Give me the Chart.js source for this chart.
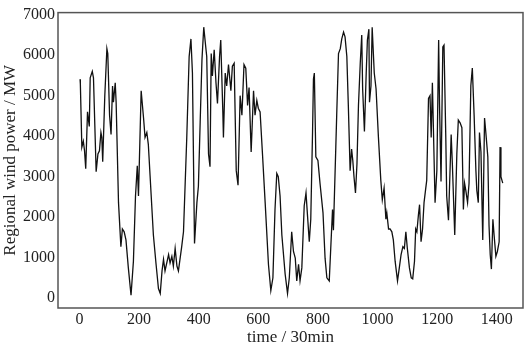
<!DOCTYPE html>
<html>
<head>
<meta charset="utf-8">
<script src="https://cdn.jsdelivr.net/npm/chart.js@4"></script>
<style>
  html, body { margin: 0; padding: 0; background: #fff; }
  #wrap { width: 526px; height: 344px; }
</style>
</head>
<body>
<div id="wrap"><canvas id="c" width="526" height="344"></canvas></div>
<script>
// time index (30-min steps) of traced points
const timeIdx = [2,3,8,13,17,21,27,33,36,43,47,56,62,67,72,75,78,85,92,95,101,106,111,114,120,123,131,139,144,150,156,164,173,181,188,194,198,207,215,220,226,231,248,257,265,271,277,282,287,299,304,310,315,321,327,332,343,349,360,368,374,379,386,394,399,405,411,417,423,427,433,438,442,446,452,458,463,470,474,481,483,489,494,500,508,513,519,526,532,539,545,552,558,564,569,576,584,589,595,600,606,614,623,634,642,649,656,662,667,673,679,690,698,704,712,718,724,729,735,740,746,754,760,765,771,776,782,785,788,793,800,807,817,824,830,838,843,849,852,860,863,869,875,880,886,891,897,902,908,913,917,921,926,931,936,942,947,950,956,962,966,971,973,978,982,989,995,1003,1011,1016,1022,1028,1031,1037,1042,1048,1053,1059,1067,1073,1079,1085,1090,1095,1100,1107,1113,1118,1124,1128,1132,1137,1141,1146,1151,1156,1161,1165,1171,1176,1180,1184,1193,1199,1205,1208,1213,1219,1223,1229,1232,1238,1247,1251,1259,1266,1271,1277,1283,1288,1292,1296,1302,1307,1313,1318,1324,1330,1333,1338,1342,1347,1353,1359,1363,1370,1374,1378,1382,1387,1391,1397,1402,1408,1411,1414,1420];
// regional wind power (MW)
const windPower = [5405,5290,3730,3875,3640,3200,4600,4240,5440,5600,5440,3125,3560,3640,4090,3970,3370,5000,6160,6040,4520,4040,5240,4840,5320,4840,2360,1275,1710,1640,1440,750,75,915,2525,3270,2525,5120,4450,3970,4090,3800,1560,840,240,120,675,960,675,1080,870,1035,795,1230,795,675,1275,1640,3970,5965,6400,5560,1350,2360,2765,4355,5890,6690,6250,5965,3560,3245,6040,5485,6135,5320,4810,5965,6375,4600,3970,5560,5240,5770,5120,5725,5800,3150,2790,5000,4520,5770,5680,4760,5200,3610,5120,4520,4880,4690,4600,3560,2360,840,190,505,2190,3080,3000,2525,1560,600,120,505,1640,1155,990,430,840,430,750,2285,2600,2045,1395,1950,4115,5410,5560,3490,3400,2840,2115,990,505,430,1230,2190,1680,3730,4520,6040,6160,6400,6570,6450,5965,4760,3150,3680,3400,3000,2600,3320,4760,5800,6495,5170,4115,5560,6375,6640,4840,5245,6690,5560,5170,3970,2910,2430,2720,1950,2115,1710,1710,1640,1440,915,430,750,1080,1275,1230,1640,1230,750,505,480,915,1710,1640,2045,2310,1395,1710,2360,2670,2910,4930,5000,3970,5320,2360,3150,6375,4760,2885,6205,6250,3970,2525,1925,4040,3320,1560,3560,4400,4330,4210,2190,2840,2670,2360,2840,5245,5680,4520,3150,2670,2360,4090,3610,1440,4450,4115,3490,1800,1080,720,1950,1560,1035,1155,1395,3730,3000,2840];
const xTicks = [0,200,400,600,800,1000,1200,1400];
const yTicks = [0,1000,2000,3000,4000,5000,6000,7000];
const xTitle = 'time / 30min';
const yTitle = 'Regional wind power / MW';

const points = timeIdx.map((t, i) => ({x: t, y: windPower[i]}));

const frame = {
  id: 'frame',
  afterDraw(chart) {
    const a = chart.chartArea, ctx = chart.ctx;
    ctx.save();
    ctx.strokeStyle = '#555';
    ctx.lineWidth = 1.5;
    ctx.strokeRect(a.left, a.top, a.right - a.left, a.bottom - a.top);
    ctx.restore();
  }
};

const serif = '"Liberation Serif", "Times New Roman", serif';

new Chart(document.getElementById('c'), {
  type: 'line',
  data: {
    datasets: [{
      data: points,
      borderColor: '#111',
      borderWidth: 1.3,
      pointRadius: 0,
      tension: 0,
      fill: false
    }]
  },
  options: {
    responsive: false,
    animation: false,
    layout: { padding: { top: 5, right: 3, left: 0, bottom: 0 } },
    plugins: { legend: { display: false }, tooltip: { enabled: false } },
    scales: {
      x: {
        type: 'linear',
        min: -72, max: 1488,
        grid: { display: false, drawTicks: false },
        border: { display: false },
        afterBuildTicks(s) { s.ticks = xTicks.map(v => ({value: v})); },
        afterFit(s) { s.height = 36; },
        ticks: { color: '#222', padding: 2, maxRotation: 0, font: { family: serif, size: 16 }, callback: v => String(v) },
        title: { display: true, text: xTitle, color: '#222', padding: { top: 0, bottom: -2 }, font: { family: serif, size: 17, lineHeight: 1 } }
      },
      y: {
        type: 'linear',
        min: -240, max: 7050,
        grid: { display: false, drawTicks: false },
        border: { display: false },
        afterBuildTicks(s) { s.ticks = yTicks.map(v => ({value: v})); },
        afterFit(s) { s.width = 58; },
        ticks: { color: '#222', padding: 3, font: { family: serif, size: 16 }, callback: v => String(v) },
        title: { display: true, text: yTitle, color: '#222', padding: 0, font: { family: serif, size: 17 } }
      }
    }
  },
  plugins: [frame]
});
</script>
</body>
</html>
